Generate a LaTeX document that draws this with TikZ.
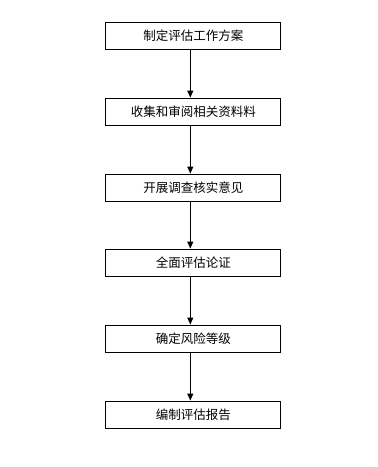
\documentclass[tikz,border=0pt]{standalone}
\usepackage{fontspec}
\newfontfamily\cjk{Noto Sans CJK SC}
\usetikzlibrary{arrows.meta}
\begin{document}
\begin{tikzpicture}[x=1pt,y=-1pt,
  stepbox/.style={draw=black,line width=0.9pt,minimum width=175pt,minimum height=27pt,inner sep=0pt,font=\cjk\fontsize{12.5}{14}\selectfont},
  conn/.style={draw=black,line width=0.9pt,-{Triangle[length=7pt,width=6pt]}}]
\fill[white] (0,0) rectangle (378,467);
\useasboundingbox (0,0) rectangle (378,467);
\node[stepbox] (a) at (193.3,35.5) {制定评估工作方案};
\node[stepbox] (b) at (193.3,111.5) {收集和审阅相关资料料};
\node[stepbox] (c) at (193.3,187.5) {开展调查核实意见};
\node[stepbox] (d) at (193.3,262.5) {全面评估论证};
\node[stepbox] (e) at (193.3,338.5) {确定风险等级};
\node[stepbox] (f) at (193.3,414.5) {编制评估报告};
\foreach \u/\v in {a/b,b/c,c/d,d/e,e/f}
  \draw[conn] ([xshift=-3pt]\u.south) -- ([xshift=-3pt]\v.north);
\end{tikzpicture}
\end{document}
